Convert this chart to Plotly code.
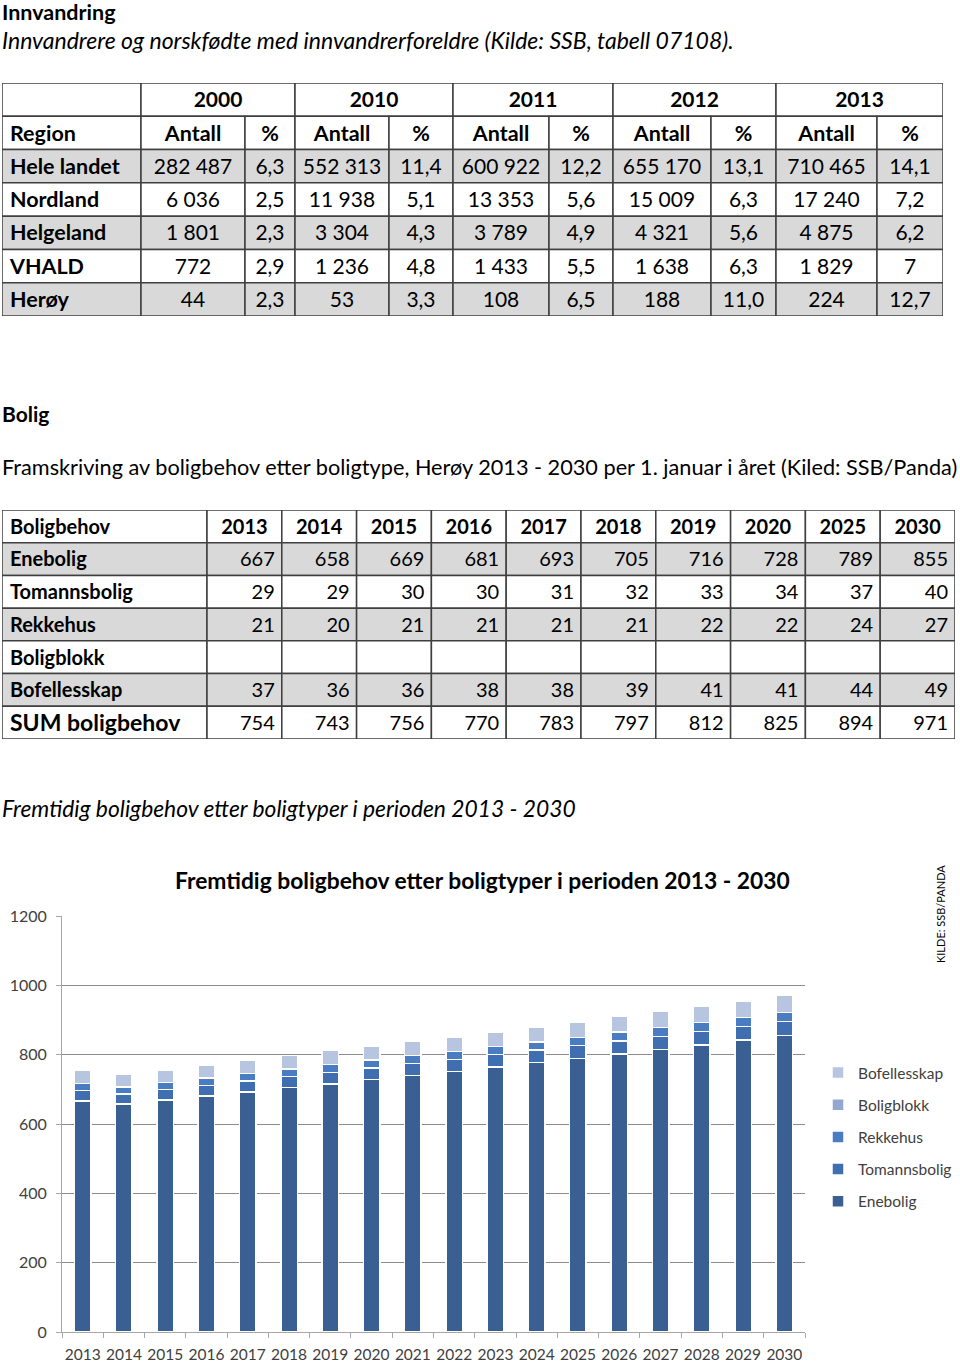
import plotly.graph_objects as go

FONT = "Lato"

# Innvandring table
innv_years = ["2000", "2010", "2011", "2012", "2013"]
regions = ["Hele landet", "Nordland", "Helgeland", "VHALD", "Herøy"]
antall = {
    "2000": ["282 487", "6 036", "1 801", "772", "44"],
    "2010": ["552 313", "11 938", "3 304", "1 236", "53"],
    "2011": ["600 922", "13 353", "3 789", "1 433", "108"],
    "2012": ["655 170", "15 009", "4 321", "1 638", "188"],
    "2013": ["710 465", "17 240", "4 875", "1 829", "224"],
}
prosent = {
    "2000": ["6,3", "2,5", "2,3", "2,9", "2,3"],
    "2010": ["11,4", "5,1", "4,3", "4,8", "3,3"],
    "2011": ["12,2", "5,6", "4,9", "5,5", "6,5"],
    "2012": ["13,1", "6,3", "5,6", "6,3", "11,0"],
    "2013": ["14,1", "7,2", "6,2", "7", "12,7"],
}

# Boligbehov table
bolig_years = ["2013", "2014", "2015", "2016", "2017", "2018", "2019", "2020", "2025", "2030"]
bolig_rows = ["Enebolig", "Tomannsbolig", "Rekkehus", "Boligblokk", "Bofellesskap", "SUM boligbehov"]
tab_enebolig = [667, 658, 669, 681, 693, 705, 716, 728, 789, 855]
tab_tomanns = [29, 29, 30, 30, 31, 32, 33, 34, 37, 40]
tab_rekkehus = [21, 20, 21, 21, 21, 21, 22, 22, 24, 27]
tab_blokk = [None] * 10
tab_bofell = [37, 36, 36, 38, 38, 39, 41, 41, 44, 49]
tab_sum = [754, 743, 756, 770, 783, 797, 812, 825, 894, 971]

# chart
chart_years = [str(y) for y in range(2013, 2031)]
enebolig = [667, 658, 669, 681, 693, 705, 716, 728, 740, 751, 764, 777, 789, 802, 815, 828, 842, 855]
tomannsbolig = [29, 29, 30, 30, 31, 32, 33, 34, 35, 35, 36, 36, 37, 38, 38, 39, 39, 40]
rekkehus = [21, 20, 21, 21, 21, 21, 22, 22, 22, 23, 23, 24, 24, 25, 25, 26, 26, 27]
boligblokk = [0] * 18
bofellesskap = [37, 36, 36, 38, 38, 39, 41, 41, 42, 42, 43, 43, 44, 45, 46, 47, 48, 49]

W, H = 960, 1362
LINE = "#3f3f3f"
GREY = "#d9d9d9"
TY = 0.57  # vertical text position inside a row


def py(px):
    return 1 - px / H


fig = go.Figure()
shapes = []


def cell(xa, ya, x0, x1, r, fill):
    shapes.append(dict(type="rect", xref=xa, yref=ya, x0=x0, x1=x1, y0=r, y1=r + 1,
                       fillcolor=fill, line=dict(color=LINE, width=1.5), layer="below"))


def text_trace(xa, ya, xs, ys, ts, pos, size, bold=False):
    if bold:
        ts = ["<b>%s</b>" % t for t in ts]
    fig.add_trace(go.Scatter(x=xs, y=ys, text=ts, mode="text", textposition=pos,
                             textfont=dict(family=FONT, size=size, color="black"),
                             xaxis=xa, yaxis=ya, hoverinfo="skip", showlegend=False))


def edges_of(widths):
    e = [0]
    for w in widths:
        e.append(e[-1] + w)
    return e


# ---- table 1 (axes x2/y2, x in px columns, y in rows) ----
w1 = [139, 104, 50, 94, 64, 96, 64, 98, 65, 101, 66]
e1 = edges_of(w1)
row_fill1 = ["white", "white", GREY, "white", GREY, "white", GREY]
cell("x2", "y2", e1[0], e1[1], 0, "white")
for i in range(len(innv_years)):
    cell("x2", "y2", e1[1 + 2 * i], e1[3 + 2 * i], 0, "white")
for r in range(1, 7):
    for c in range(len(w1)):
        cell("x2", "y2", e1[c], e1[c + 1], r, row_fill1[r])

mid1 = [(e1[c] + e1[c + 1]) / 2 for c in range(len(w1))]
span_mid = [(e1[1 + 2 * i] + e1[3 + 2 * i]) / 2 for i in range(len(innv_years))]
text_trace("x2", "y2", span_mid, [TY] * 5, innv_years, "middle center", 21, bold=True)
head1 = ["Antall", "%"] * 5
text_trace("x2", "y2", mid1[1:], [1 + TY] * 10, head1, "middle center", 21.5, bold=True)
text_trace("x2", "y2", [8] * 6, [1 + TY + k for k in range(6)], ["Region"] + regions,
           "middle right", 21.5, bold=True)
xs, ys, ts = [], [], []
for i, y in enumerate(innv_years):
    for k in range(len(regions)):
        xs += [mid1[1 + 2 * i], mid1[2 + 2 * i]]
        ys += [2 + TY + k, 2 + TY + k]
        ts += [antall[y][k], prosent[y][k]]
text_trace("x2", "y2", xs, ys, ts, "middle center", 21)

# ---- table 2 (axes x3/y3) ----
w2 = [205] + [74.8] * 10
e2 = edges_of(w2)
row_fill2 = ["white", GREY, "white", GREY, "white", GREY, "white"]
for r in range(7):
    for c in range(len(w2)):
        cell("x3", "y3", e2[c], e2[c + 1], r, row_fill2[r])
mid2 = [(e2[c] + e2[c + 1]) / 2 for c in range(len(w2))]
text_trace("x3", "y3", [8], [TY], ["Boligbehov"], "middle right", 20, bold=True)
text_trace("x3", "y3", mid2[1:], [TY] * 10, bolig_years, "middle center", 20, bold=True)
text_trace("x3", "y3", [8] * 5, [1 + TY + k for k in range(5)], bolig_rows[:5],
           "middle right", 20, bold=True)
text_trace("x3", "y3", [8], [6 + TY], bolig_rows[5:], "middle right", 23, bold=True)
body = [tab_enebolig, tab_tomanns, tab_rekkehus, tab_blokk, tab_bofell, tab_sum]
xs, ys, ts = [], [], []
for k, row in enumerate(body):
    for j, v in enumerate(row):
        if v is None:
            continue
        xs.append(e2[j + 2] - 7)
        ys.append(1 + TY + k)
        ts.append(str(v))
text_trace("x3", "y3", xs, ys, ts, "middle left", 20)

# ---- stacked bar chart ----
series = [
    ("Enebolig", enebolig, "#3a5f92"),
    ("Tomannsbolig", tomannsbolig, "#3f6fb0"),
    ("Rekkehus", rekkehus, "#4a7cc1"),
    ("Boligblokk", boligblokk, "#93a8cf"),
    ("Bofellesskap", bofellesskap, "#b8c5e0"),
]
for k, (name, vals, col) in enumerate(series):
    fig.add_trace(go.Bar(
        x=chart_years, y=vals, name=name, legendgroup=name, legendrank=10 - k,
        marker=dict(color=col, line=dict(color="white", width=1.5)),
        xaxis="x", yaxis="y", hoverinfo="skip",
    ))

hidden = dict(visible=False, fixedrange=True, automargin=False)
fig.update_layout(
    width=W, height=H,
    margin=dict(l=0, r=0, t=0, b=0, autoexpand=False),
    paper_bgcolor="white", plot_bgcolor="white",
    barmode="stack", bargap=0.6,
    font=dict(family=FONT, color="#404040"),
    xaxis=dict(domain=[62 / W, 805 / W], anchor="y", automargin=False,
               showline=True, linecolor="#a6a6a6", linewidth=1,
               ticks="outside", tickson="boundaries", ticklen=5, tickcolor="#a6a6a6",
               tickfont=dict(size=15.5, color="#404040"), tickangle=0, showgrid=False,
               ticklabelstandoff=8),
    yaxis=dict(domain=[py(1332), py(916)], anchor="x", range=[0, 1200], dtick=200,
               automargin=False,
               showline=True, linecolor="#a6a6a6", linewidth=1,
               ticks="outside", ticklen=5, tickcolor="#a6a6a6",
               gridcolor="#8c8c8c", gridwidth=1, zeroline=False,
               tickfont=dict(size=16, color="#404040"), ticklabelstandoff=6),
    xaxis2=dict(domain=[2 / W, 943 / W], range=[0, e1[-1]], anchor="y2", **hidden),
    yaxis2=dict(domain=[py(316), py(83)], range=[7, 0], anchor="x2", **hidden),
    xaxis3=dict(domain=[2 / W, 955 / W], range=[0, e2[-1]], anchor="y3", **hidden),
    yaxis3=dict(domain=[py(739), py(510)], range=[7, 0], anchor="x3", **hidden),
    legend=dict(x=818 / W, y=py(1056), xanchor="left", yanchor="top",
                traceorder="grouped", tracegroupgap=9,
                font=dict(size=15.5, color="#404040"), itemwidth=30),
    showlegend=True,
    shapes=shapes,
)

texts = [
    ("<b>Innvandring</b>", 12, 21.5),
    ("<i>Innvandrere og norskfødte med innvandrerforeldre (Kilde: SSB, tabell 07108).</i>", 40, 23),
    ("<b>Bolig</b>", 413, 21),
    ("Framskriving av boligbehov etter boligtype, Herøy 2013 - 2030 per 1. januar i året (Kiled: SSB/Panda)", 467, 21.7),
    ("<i>Fremtidig boligbehov etter boligtyper i perioden 2013 - 2030</i>", 808, 22.8),
]
for t, ypx, sz in texts:
    fig.add_annotation(text=t, x=0, y=py(ypx), xref="paper", yref="paper",
                       xanchor="left", yanchor="middle", showarrow=False,
                       font=dict(family=FONT, size=sz, color="black"))

fig.add_annotation(text="<b>Fremtidig boligbehov etter boligtyper i perioden 2013 - 2030</b>",
                   x=482 / W, y=py(880), xref="paper", yref="paper",
                   xanchor="center", yanchor="middle", showarrow=False,
                   font=dict(family=FONT, size=22.8, color="black"))
fig.add_annotation(text="KILDE: SSB/PANDA", x=940 / W, y=py(914), xref="paper", yref="paper",
                   xanchor="center", yanchor="middle", showarrow=False, textangle=-90,
                   font=dict(family=FONT, size=11, color="black"))

pin = ("document.documentElement.style.margin='0';"
       "document.body.style.margin='0';document.body.style.padding='0';")
fig.write_html("out.html", config={"displayModeBar": False}, post_script=pin)
